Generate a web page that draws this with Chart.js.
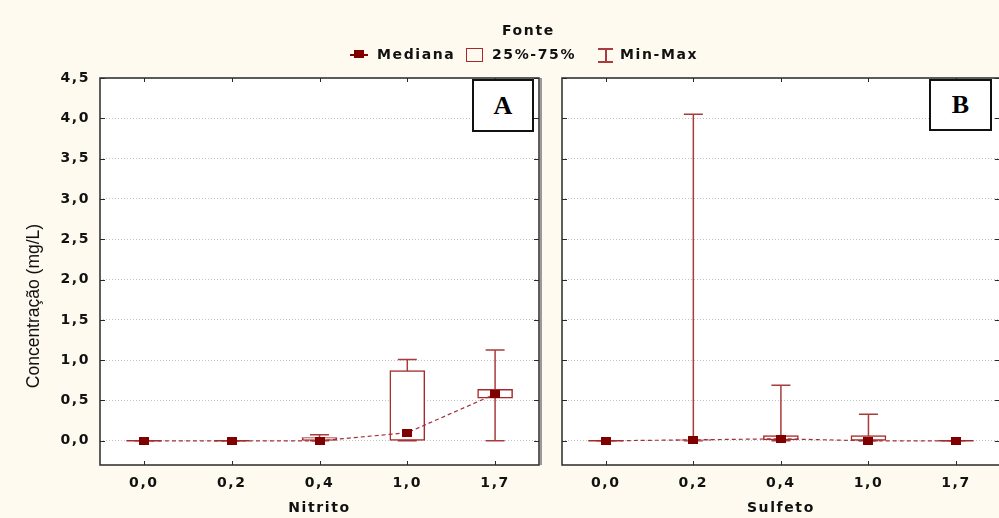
<!DOCTYPE html>
<html><head><meta charset="utf-8">
<script src="https://cdn.jsdelivr.net/npm/chart.js@4.4.0/dist/chart.umd.min.js"></script>
<style>
html,body{margin:0;padding:0;background:#fffaf0;overflow:hidden;width:999px;height:518px;}
#wrap{position:relative;width:999px;height:518px;overflow:hidden;}
canvas{position:absolute;top:0;left:0;}
.t{position:absolute;font-family:"DejaVu Sans",sans-serif;font-weight:bold;font-size:14px;letter-spacing:1.6px;line-height:14px;color:#111;white-space:nowrap;}
.panel{position:absolute;border:2px solid #111;background:#fff;font-family:"Liberation Serif",serif;font-weight:bold;font-size:26px;display:flex;align-items:center;justify-content:center;box-sizing:border-box;}
.g{position:absolute;}
</style></head>
<body>
<div id="wrap">
<canvas id="cA" width="999" height="518"></canvas>
<canvas id="cB" width="1006" height="518"></canvas>
<div class="t" style="left:502px;top:23px;">Fonte</div>
<div class="g" style="left:350px;top:54px;width:18px;height:1.5px;background:#800000;"></div>
<div class="g" style="left:354px;top:50px;width:10px;height:8px;background:#800000;"></div>
<div class="t" style="left:377px;top:47px;">Mediana</div>
<div class="g" style="left:466px;top:48px;width:17px;height:14px;border:1.5px solid #a52a2a;box-sizing:border-box;"></div>
<div class="t" style="left:492px;top:47px;">25%-75%</div>
<div class="g" style="left:598px;top:48px;width:15px;height:1.5px;background:#a83c3c;"></div>
<div class="g" style="left:605px;top:48px;width:1.5px;height:14px;background:#a83c3c;"></div>
<div class="g" style="left:598px;top:61px;width:15px;height:1.5px;background:#a83c3c;"></div>
<div class="t" style="left:620px;top:47px;">Min-Max</div>
<div style="position:absolute;left:-67px;top:296px;width:200px;text-align:center;font-family:'Liberation Sans',Arial,sans-serif;font-size:17.5px;line-height:20px;color:#111;transform:rotate(-90deg);transform-origin:center;white-space:nowrap;">Concentração (mg/L)</div>
<div class="panel" style="left:472px;top:79px;width:62px;height:53px;">A</div>
<div class="panel" style="left:929px;top:79px;width:63px;height:52px;">B</div>
</div>
<script>
const categories = ['0,0','0,2','0,4','1,0','1,7'];
const yTickValues = [0,0.5,1,1.5,2,2.5,3,3.5,4,4.5];

const nitMin = [0,0,0,0,0];
const nitQ1  = [0,0,0,0,0.53];
const nitMed = [0,0,0,0.10,0.58];
const nitQ3  = [0,0,0.04,0.87,0.64];
const nitMax = [0,0,0.075,1.01,1.125];

const sulMin = [0,0,0,0,0];
const sulQ1  = [0,0,0.01,0,0];
const sulMed = [0,0.012,0.025,0,0];
const sulQ3  = [0,0.015,0.066,0.066,0];
const sulMax = [0,4.05,0.69,0.33,0];

Chart.defaults.font.family = "'DejaVu Sans', sans-serif";
Chart.defaults.font.size = 14;
Chart.defaults.font.weight = 'bold';
Chart.defaults.color = '#111';

const pt = document.createElement('canvas');
pt.width = 10; pt.height = 8;
const pctx = pt.getContext('2d');
pctx.fillStyle = '#800000'; pctx.fillRect(0,0,10,8);

const LS = '1.6px';
const spacing = {
  id:'spacing',
  beforeUpdate(c){ c.ctx.letterSpacing=LS; },
  beforeLayout(c){ c.ctx.letterSpacing=LS; },
  beforeDraw(c){ c.ctx.letterSpacing=LS; }
};

function makeDecor(mins, q1, q3, maxs, shadow){
  return {
    id:'decor',
    beforeDraw(c){
      const a = c.chartArea, ctx = c.ctx;
      ctx.save();
      ctx.fillStyle = '#fff';
      ctx.fillRect(a.left, a.top, a.right-a.left, a.bottom-a.top);
      ctx.restore();
    },
    beforeDatasetsDraw(c){
      const ctx = c.ctx, xs = c.scales.x, ys = c.scales.y;
      ctx.save();
      ctx.strokeStyle = '#a83c3c';
      ctx.lineWidth = 1.5;
      for (let i=0;i<categories.length;i++){
        const x = xs.getPixelForValue(i);
        const y0 = ys.getPixelForValue(mins[i]);
        const y1 = ys.getPixelForValue(maxs[i]);
        ctx.beginPath();
        ctx.moveTo(x, y0); ctx.lineTo(x, y1);
        ctx.moveTo(x-9.5, y0); ctx.lineTo(x+9.5, y0);
        ctx.moveTo(x-9.5, y1); ctx.lineTo(x+9.5, y1);
        ctx.stroke();
        if (q1[i] === q3[i]) {
          const yb = ys.getPixelForValue(q1[i]);
          ctx.beginPath();
          ctx.strokeStyle = '#a52a2a';
          ctx.moveTo(x-17.5, yb); ctx.lineTo(x+17.5, yb);
          ctx.stroke();
          ctx.strokeStyle = '#a83c3c';
        }
      }
      ctx.restore();
    },
    afterDraw(c){
      const a = c.chartArea, ctx = c.ctx, xs = c.scales.x, ys = c.scales.y;
      ctx.save();
      ctx.letterSpacing = '0px';
      if (shadow) {
        ctx.strokeStyle = '#9a9a9a';
        ctx.lineWidth = 2;
        ctx.beginPath();
        ctx.moveTo(a.right+2, a.top); ctx.lineTo(a.right+2, a.bottom);
        ctx.stroke();
      }
      ctx.strokeStyle = '#2a2a2a';
      ctx.lineWidth = 1.5;
      ctx.strokeRect(a.left, a.top, a.right-a.left, a.bottom-a.top);
      ctx.lineWidth = 1;
      ctx.beginPath();
      yTickValues.forEach(v=>{
        const y = Math.round(ys.getPixelForValue(v))+0.5;
        ctx.moveTo(a.left, y); ctx.lineTo(a.left+5, y);
        ctx.moveTo(a.right, y); ctx.lineTo(a.right-5, y);
      });
      for (let i=0;i<categories.length;i++){
        const x = Math.round(xs.getPixelForValue(i))+0.5;
        ctx.moveTo(x, a.top); ctx.lineTo(x, a.top+4);
        ctx.moveTo(x, a.bottom); ctx.lineTo(x, a.bottom-4);
      }
      ctx.stroke();
      ctx.restore();
    }
  };
}

function makeChart(id, title, mins, q1, med, q3, maxs, padLeft, padRight, yWidth, showY, shadow){
  return new Chart(document.getElementById(id), {
    data: {
      labels: categories,
      datasets: [
        { type:'line', label:'Mediana', data: med, borderColor:'#a0303a', borderWidth:1.2,
          borderDash:[4,3], pointStyle: pt, pointRadius:5, fill:false, tension:0, order:1 },
        { type:'bar', label:'25%-75%', data: q1.map((v,i)=>[v, q3[i]]), backgroundColor:'#fff',
          borderColor:'#a52a2a', borderWidth:1.5, borderSkipped:false, barThickness:35, order:2 }
      ]
    },
    options: {
      responsive:false, animation:false, devicePixelRatio:1, events:[],
      layout:{ padding:{ left:padLeft, right:padRight, top:78, bottom:0 } },
      plugins:{ legend:{display:false}, tooltip:{enabled:false}, title:{display:false} },
      scales:{
        x:{
          type:'category', offset:true,
          grid:{ display:false, drawTicks:false },
          border:{ display:false },
          ticks:{ padding:10, maxRotation:0, autoSkip:false },
          title:{ display:true, text:title, padding:{top:0,bottom:1}, font:{size:14, weight:'bold'} },
          afterFit(s){ s.height = 53; }
        },
        y:{
          type:'linear', min:-0.3, max:4.5,
          afterBuildTicks(s){ s.ticks = yTickValues.map(v=>({value:v})); },
          grid:{ color:'#c4c4c4', lineWidth:1, drawTicks:false },
          border:{ display:false, dash:[1,2] },
          ticks:{ display:showY, padding:10, callback:(v)=>Number(v).toFixed(1).replace('.', ',') },
          afterFit(s){ s.width = yWidth; }
        }
      }
    },
    plugins:[spacing, makeDecor(mins, q1, q3, maxs, shadow)]
  });
}

makeChart('cA', 'Nitrito', nitMin, nitQ1, nitMed, nitQ3, nitMax, 0, 460, 100, true, true);
makeChart('cB', 'Sulfeto', sulMin, sulQ1, sulMed, sulQ3, sulMax, 562, 4, 0, false, false);
</script>
</body></html>
